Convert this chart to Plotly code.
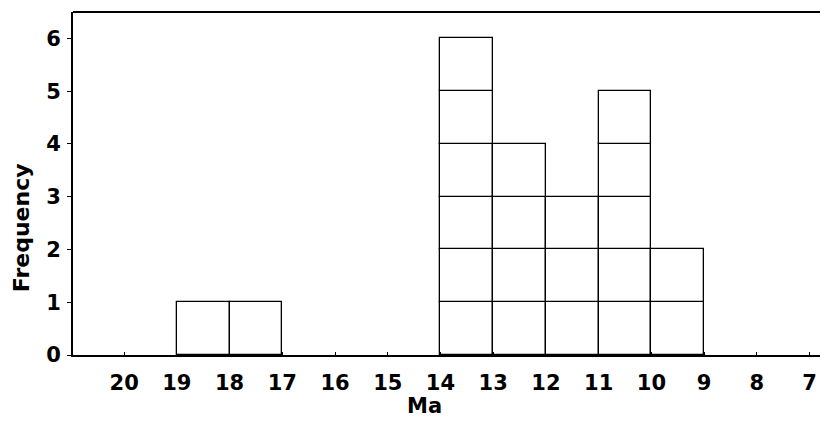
import plotly.graph_objects as go

# Data: histogram bins (Ma, left edge = older boundary) and frequencies
bin_start = [19, 18, 14, 13, 12, 11, 10]
counts = [1, 1, 6, 4, 3, 5, 2]
x_ticks = [20, 19, 18, 17, 16, 15, 14, 13, 12, 11, 10, 9, 8, 7]
y_ticks = [0, 1, 2, 3, 4, 5, 6]

# Build stacked unit boxes from the counts
xs, bases, hs = [], [], []
for s, c in zip(bin_start, counts):
    for k in range(c):
        xs.append(s - 0.5)
        bases.append(k)
        hs.append(1)

FONT = "DejaVu Sans"

fig = go.Figure()
fig.add_trace(go.Bar(
    x=xs, y=hs, base=bases, width=1,
    marker=dict(color="white", line=dict(color="black", width=1.3)),
    showlegend=False, hoverinfo="skip",
))

# page body has an 8px default margin, so the figure is 8px smaller
fig.update_layout(
    width=820, height=416,
    margin=dict(l=65, r=0, t=4, b=69, autoexpand=False),
    paper_bgcolor="white", plot_bgcolor="white",
    bargap=0,
    xaxis=dict(
        range=[20.97, 6.65], automargin=False,
        tickvals=x_ticks, ticktext=[str(v) for v in x_ticks],
        ticks="inside", ticklen=3, tickcolor="black",
        showline=True, linecolor="black", linewidth=2, mirror=False,
        showgrid=False, zeroline=False,
        tickfont=dict(family=FONT, size=21, color="black", weight="bold"),
        ticklabelstandoff=8,
    ),
    yaxis=dict(
        range=[0, 6.5], automargin=False,
        tickvals=y_ticks,
        ticks="outside", ticklen=4, tickcolor="black",
        showline=True, linecolor="black", linewidth=2,
        showgrid=False, zeroline=False,
        tickfont=dict(family=FONT, size=21, color="black", weight="bold"),
        ticklabelstandoff=2,
    ),
    shapes=[dict(type="line", xref="paper", yref="paper", x0=0, x1=1, y0=1, y1=1,
                 line=dict(color="black", width=2))],
    annotations=[
        dict(text="Frequency", xref="paper", yref="y", x=-0.069, y=2.42,
             textangle=-90, showarrow=False, xanchor="center", yanchor="middle",
             font=dict(family=FONT, size=22, color="black", weight="bold")),
        dict(text="Ma", xref="x", yref="paper", x=14.31, y=-0.148,
             showarrow=False, xanchor="center", yanchor="middle",
             font=dict(family=FONT, size=21, color="black", weight="bold")),
    ],
)

fig.write_html("out.html")
